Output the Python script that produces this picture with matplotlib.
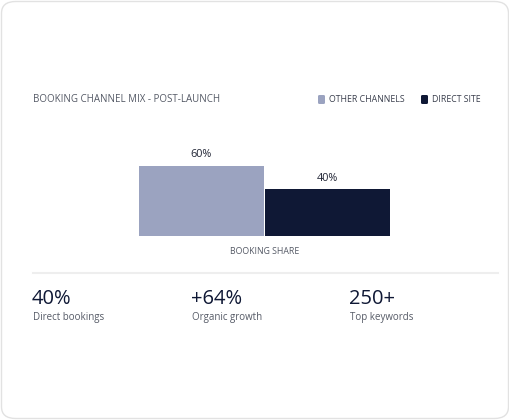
import matplotlib.pyplot as plt
from matplotlib.patches import FancyBboxPatch

plt.rcParams['font.family'] = ['Open Sans', 'DejaVu Sans']

# data
channels = ["Other channels", "Direct site"]
shares = [60, 40]
bar_colors = ["#9ba3c0", "#0f1835"]
kpi_values = ["40%", "+64%", "250+"]
kpi_labels = ["Direct bookings", "Organic growth", "Top keywords"]

W, H = 510, 420
fig = plt.figure(figsize=(W / 100, H / 100), dpi=100)


def fx(px):
    return px / W


def fy(py):
    return 1 - py / H


# card
card = FancyBboxPatch((fx(1.5), fy(418.5)), fx(507), 417 / H,
                      boxstyle="round,pad=0,rounding_size=0.028",
                      transform=fig.transFigure, facecolor="white",
                      edgecolor="#e2e2e2", linewidth=1, zorder=-5)
fig.patches.append(card)

# title
fig.text(fx(33), fy(100), "BOOKING CHANNEL MIX - POST-LAUNCH", fontsize=7,
         color="#555a66", va="center", ha="left")

# legend
leg_x = [318, 421]
for x0, name, col in zip(leg_x, channels, bar_colors):
    sq = FancyBboxPatch((fx(x0), fy(104)), fx(7), 9 / H,
                        boxstyle="round,pad=0,rounding_size=0.003",
                        transform=fig.transFigure, facecolor=col,
                        edgecolor="none")
    fig.patches.append(sq)
    fig.text(fx(x0 + 11), fy(100), name.upper(), fontsize=6.3,
             color="#3a3f4d", va="center", ha="left")

# bar chart
ax = fig.add_axes([fx(138), fy(236), fx(253), 116.7 / H])
ax.patch.set_alpha(0)
xs = list(range(len(shares)))
bars = ax.bar(xs, shares, width=0.985, color=bar_colors)
ax.set_xlim(-0.5, 1.5)
ax.set_ylim(0, 100)
ax.axis("off")
for b, v in zip(bars, shares):
    ax.annotate(f"{v}%", (b.get_x() + b.get_width() / 2, v),
                xytext=(0, 4), textcoords="offset points",
                ha="center", va="bottom", fontsize=7.8, color="#1f2333")

fig.text(fx(265), fy(251), "BOOKING SHARE", fontsize=6.3, color="#555a66",
         ha="center", va="center")

# separator
fig.add_artist(plt.Line2D([fx(33), fx(498)], [fy(273), fy(273)],
                          transform=fig.transFigure, color="#eeeeee",
                          linewidth=1.5))

# kpis
kpi_x = [33, 192, 350]
for x0, val, lab in zip(kpi_x, kpi_values, kpi_labels):
    fig.text(fx(x0 - 1), fy(304), val, fontsize=14.5, color="#0f1835",
             ha="left", va="baseline", fontweight="medium")
    fig.text(fx(x0), fy(320), lab, fontsize=7, color="#555a66",
             ha="left", va="baseline")

fig.savefig("out.png", dpi=100, facecolor="white")
